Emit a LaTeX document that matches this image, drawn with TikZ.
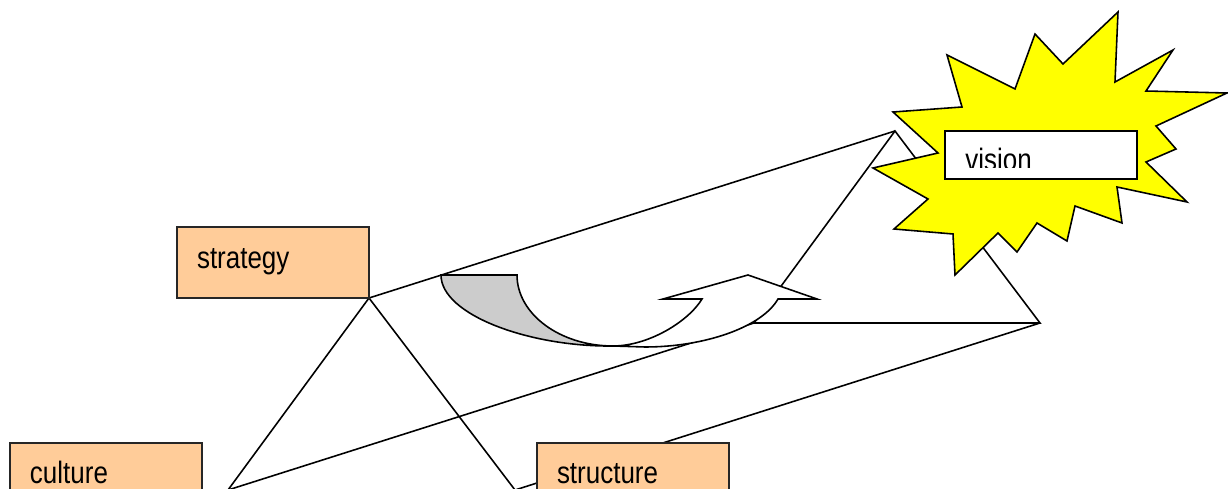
\documentclass[tikz,border=0pt]{standalone}
\usepackage{fontspec}
\setmainfont{Liberation Sans}[FakeStretch=0.84]
\usetikzlibrary{calc}

\definecolor{peach}{HTML}{FFCC99}
\definecolor{burst}{HTML}{FFFF00}
\definecolor{shade}{HTML}{CCCCCC}

\tikzset{
  edge/.style={line width=0.9pt, line join=miter},
  labelfont/.style={font=\fontsize{17.6pt}{20pt}\selectfont},
  factor/.style={labelfont, draw=black!85, line width=1pt, fill=peach,
    minimum width=3.84cm, minimum height=1.42cm, text width=3.04cm,
    align=left, inner xsep=0.4cm, inner ysep=0pt, outer sep=0pt,
    text height=0.32cm, text depth=0.1cm},
  visionbox/.style={draw=black, line width=1.2pt, fill=white,
    minimum width=3.84cm, minimum height=0.96cm, inner sep=0pt, outer sep=0pt}
}

\begin{document}
\begin{tikzpicture}[x=0.02cm, y=-0.02cm]
  \useasboundingbox (0,0) rectangle (1228,489);
  \fill[white] (0,0) rectangle (1228,489);
  \clip (0,0) rectangle (1228,489);

  % corners of the prism
  \coordinate (stratpt) at (369,298);
  \coordinate (cultpt) at (228,490);
  \coordinate (structpt) at (515,490);
  \coordinate (backtop) at (895,131);
  \coordinate (backleft) at (754,323);
  \coordinate (backright) at (1040,323);

  % prism edges
  \draw[edge] (stratpt) -- (cultpt) -- (structpt) -- cycle;
  \draw[edge] (backtop) -- (backleft) -- (backright) -- cycle;
  \draw[edge] (stratpt) -- (backtop) (cultpt) -- (backleft) (structpt) -- (backright);

  % curved arrow, grey back part
  \draw[edge, fill=shade] (441,275) -- (517,275)
    .. controls (517,314) and (560,346) .. (613,346)
    .. controls (530,347) and (441,315) .. (441,275) -- cycle;

  % curved arrow, front part with head
  \draw[edge, fill=white] (613,346)
    .. controls (648,346) and (688,322) .. (702,299)
    -- (663,299) -- (748,275) -- (817,299) -- (778,299)
    .. controls (762,327) and (705,347) .. (645,347) -- cycle;

  % starburst behind the vision box
  \draw[edge, fill=burst] (1118,12) -- (1115,82) -- (1173,50) -- (1146,91)
    -- (1227,93) -- (1156,126) -- (1176,149) -- (1146,162) -- (1187,202)
    -- (1117,187) -- (1122,223) -- (1075,206) -- (1067,241) -- (1037,223)
    -- (1017,252) -- (998,233) -- (955,275) -- (953,234) -- (894,229)
    -- (928,199) -- (873,168) -- (938,153) -- (893,112) -- (962,107)
    -- (947,55) -- (1015,89) -- (1035,34) -- (1063,64) -- cycle;

  % vision box
  \node[visionbox, anchor=north west] (vision) at (945,131) {};
  \begin{scope}
    \clip (vision.north west) rectangle ($(vision.north east)+(0,37)$);
    \node[labelfont, anchor=base west, inner sep=0pt] (visionlabel)
      at ($(vision.north west)+(20,40)$) {vision};
  \end{scope}

  % the three factors
  \node[factor, anchor=south east] (strategy) at (stratpt) {strategy};
  \node[factor, anchor=north west] (culture) at (10,443) {culture};
  \node[factor, anchor=north west] (structure) at (537,443) {structure};
\end{tikzpicture}
\end{document}
